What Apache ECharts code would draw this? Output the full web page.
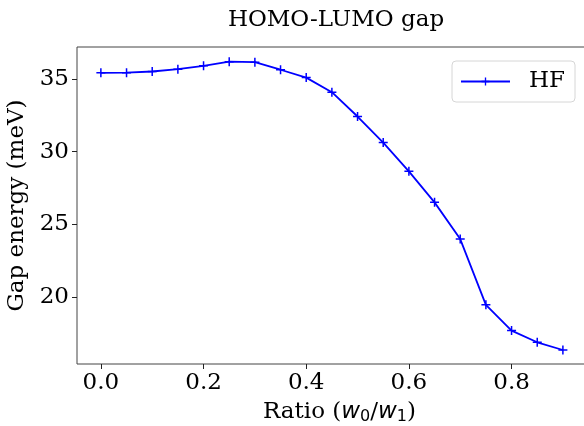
<!DOCTYPE html>
<html>
<head>
<meta charset="utf-8">
<script src="https://cdn.jsdelivr.net/npm/echarts@6/dist/echarts.min.js"></script>
<style>html,body{margin:0;padding:0;background:#fff}#c{width:584px;height:426px}</style>
</head>
<body>
<div id="c"></div>
<script>
const ratio = [0.0, 0.05, 0.1, 0.15, 0.2, 0.25, 0.3, 0.35, 0.4, 0.45, 0.5, 0.55, 0.6, 0.65, 0.7, 0.75, 0.8, 0.85, 0.9];
const gapHF = [35.41, 35.42, 35.50, 35.66, 35.89, 36.17, 36.14, 35.62, 35.08, 34.08, 32.41, 30.62, 28.65, 26.52, 24.0, 19.49, 17.72, 16.92, 16.39];
const xTicks = [0.0, 0.2, 0.4, 0.6, 0.8];
const yTicks = [20, 25, 30, 35];

const FONT = 'DejaVu Serif';
const FS = 23;
const chart = echarts.init(document.getElementById('c'), null, {renderer: 'canvas'});
const plus = 'path://M-1,-6H1V-1H6V1H1V6H-1V1H-6V-1H-1Z';
chart.setOption({
  animation: false,
  title: {
    text: 'HOMO-LUMO gap',
    left: 331, top: 4, textAlign: 'center',
    textStyle: {fontFamily: FONT, fontSize: FS, fontWeight: 'normal', color: '#000'}
  },
  grid: {
    left: 77, top: 47, right: -2, bottom: 62,
    containLabel: false, outerBoundsMode: 'none',
    show: true, borderColor: '#444', borderWidth: 1, backgroundColor: 'transparent'
  },
  legend: {
    left: 452, top: 61,
    data: ['HF'],
    padding: [9, 10, 9, 8],
    borderColor: '#d6d6d6', borderWidth: 1, borderRadius: 4,
    itemWidth: 49, itemHeight: 10,
    textStyle: {fontFamily: FONT, fontSize: FS, color: '#000', padding: [0, 0, 0, 14]}
  },
  xAxis: {
    type: 'value', min: -0.0465, max: 0.945,
    splitLine: {show: false},
    axisLine: {show: false, onZero: false},
    axisTick: {show: true, length: 5, lineStyle: {color: '#222'}, customValues: xTicks},
    axisLabel: {
      customValues: xTicks, margin: 8,
      fontFamily: FONT, fontSize: FS, color: '#000',
      formatter: v => v.toFixed(1)
    },
    name: 'Ratio ({i|w}{s|0}/{i|w}{s|1})',
    nameLocation: 'middle', nameGap: 36,
    nameTextStyle: {
      fontFamily: FONT, fontSize: FS, color: '#000', padding: [0, 0, 0, 16],
      rich: {
        i: {fontFamily: 'DejaVu Sans', fontSize: FS, fontStyle: 'italic', color: '#000'},
        s: {fontFamily: 'DejaVu Sans', fontSize: 16, color: '#000', verticalAlign: 'bottom', padding: [9, 0, 0, 0]}
      }
    }
  },
  yAxis: {
    type: 'value', min: 15.43, max: 37.18,
    splitLine: {show: false},
    axisLine: {show: false, onZero: false},
    axisTick: {show: true, length: 5, lineStyle: {color: '#222'}, customValues: yTicks},
    axisLabel: {customValues: yTicks, margin: 8, fontFamily: FONT, fontSize: FS, color: '#000'},
    name: 'Gap energy (meV)',
    nameLocation: 'middle', nameGap: 40, nameRotate: 90,
    nameTextStyle: {fontFamily: FONT, fontSize: FS, color: '#000'}
  },
  series: [{
    name: 'HF', type: 'line',
    data: ratio.map((x, i) => [x, gapHF[i]]),
    symbol: plus, symbolSize: 9, showAllSymbol: true,
    lineStyle: {color: '#0000ff', width: 1.8},
    itemStyle: {color: '#0000ff'},
    emphasis: {disabled: true}
  }]
});
</script>
</body>
</html>
